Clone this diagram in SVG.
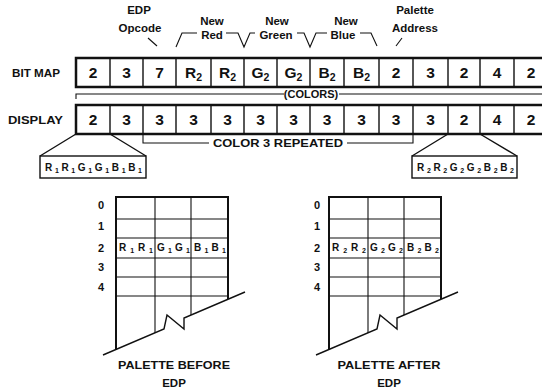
<svg xmlns="http://www.w3.org/2000/svg" width="542" height="388" viewBox="0 0 542 388">
<style>
text{font-family:"Liberation Sans",Arial,sans-serif;font-weight:bold;fill:#111}
.lbl{font-size:11.5px}
.row{font-size:11px}
.cell{font-size:15.5px;text-anchor:middle}
.sub{font-size:10.5px}
.tiny{font-size:10px}
.tsub{font-size:7px}
.mid{text-anchor:middle}
.thick{stroke:#111;stroke-width:2.5;fill:none}
.thin{stroke:#111;stroke-width:1.4;fill:none}
.hair{stroke:#111;stroke-width:1.1;fill:none}
</style>
<rect width="542" height="388" fill="#fff"/>

<g id="annotations">
<text class="lbl mid" x="139" y="14">EDP</text>
<text class="lbl mid" x="140" y="32">Opcode</text>
<line class="hair" x1="148" y1="38" x2="157" y2="46"/>
<text class="lbl mid" x="212" y="25">New</text>
<text class="lbl mid" x="212" y="39">Red</text>
<text class="lbl mid" x="277" y="25">New</text>
<text class="lbl mid" x="276" y="39">Green</text>
<text class="lbl mid" x="346" y="25">New</text>
<text class="lbl mid" x="343" y="39">Blue</text>
<text class="lbl mid" x="415" y="14">Palette</text>
<text class="lbl mid" x="415" y="32">Address</text>
<line class="hair" x1="402" y1="38" x2="396" y2="46"/>
<path class="hair" d="M176,47 L182,33 L197,33 M226,33 L238,33 L244,47 L250,33 L255,33 M297,33 L304,33 L310,47 L316,33 L327,33 M360,33 L371,33 L377,46"/>
</g>

<g id="bitmap">
<text class="row" x="12" y="77" textLength="48" lengthAdjust="spacingAndGlyphs">BIT MAP</text>
<path class="thick" d="M542,58 L76,58 L76,87 L542,87"/>
<path class="thin" d="M110,58V87 M143,58V87 M176,58V87 M211,58V87 M244,58V87 M277,58V87 M310,58V87 M344,58V87 M379,58V87 M413,58V87 M448,58V87 M480,58V87 M514,58V87"/>
<text class="cell" x="93" y="78">2</text>
<text class="cell" x="126.5" y="78">3</text>
<text class="cell" x="159.5" y="78">7</text>
<text class="cell" x="193.5" y="78">R<tspan class="sub" dy="3">2</tspan></text>
<text class="cell" x="227.5" y="78">R<tspan class="sub" dy="3">2</tspan></text>
<text class="cell" x="260.5" y="78">G<tspan class="sub" dy="3">2</tspan></text>
<text class="cell" x="293.5" y="78">G<tspan class="sub" dy="3">2</tspan></text>
<text class="cell" x="327" y="78">B<tspan class="sub" dy="3">2</tspan></text>
<text class="cell" x="361.5" y="78">B<tspan class="sub" dy="3">2</tspan></text>
<text class="cell" x="396" y="78">2</text>
<text class="cell" x="430.5" y="78">3</text>
<text class="cell" x="464" y="78">2</text>
<text class="cell" x="497" y="78">4</text>
<text class="cell" x="531" y="78">2</text>
</g>

<g id="colors-bracket">
<path class="hair" d="M76,99 L76,94 L284,94 M339,94 L542,94"/>
<text class="row mid" x="311" y="98">(COLORS)</text>
</g>

<g id="display">
<text class="row" x="8" y="124" textLength="55" lengthAdjust="spacingAndGlyphs">DISPLAY</text>
<path class="thick" d="M542,105 L76,105 L76,134 L542,134"/>
<path class="thin" d="M110,105V134 M143,105V134 M176,105V134 M211,105V134 M244,105V134 M277,105V134 M310,105V134 M344,105V134 M379,105V134 M413,105V134 M448,105V134 M480,105V134 M514,105V134"/>
<text class="cell" x="93" y="125">2</text>
<text class="cell" x="126.5" y="125">3</text>
<text class="cell" x="159.5" y="125">3</text>
<text class="cell" x="193.5" y="125">3</text>
<text class="cell" x="227.5" y="125">3</text>
<text class="cell" x="260.5" y="125">3</text>
<text class="cell" x="293.5" y="125">3</text>
<text class="cell" x="327" y="125">3</text>
<text class="cell" x="361.5" y="125">3</text>
<text class="cell" x="396" y="125">3</text>
<text class="cell" x="430.5" y="125">3</text>
<text class="cell" x="464" y="125">2</text>
<text class="cell" x="497" y="125">4</text>
<text class="cell" x="531" y="125">2</text>
</g>

<g id="repeat-bracket">
<path class="hair" d="M143,134 L143,143 L209,143 M347,143 L413,143 L413,134"/>
<text class="row" x="213" y="147" textLength="130" lengthAdjust="spacingAndGlyphs">COLOR 3 REPEATED</text>
</g>

<g id="connectors">
<path class="thin" d="M76,134 L40,156 M110,134 L146,156 M448,134 L412,156 M480,134 L517,156"/>
</g>

<g id="zoom-left">
<rect class="thin" x="40" y="156" width="106" height="22"/>
<text class="tiny" x="45" y="171" textLength="97" lengthAdjust="spacing">R<tspan class="tsub" dy="2">1</tspan><tspan dy="-2">R</tspan><tspan class="tsub" dy="2">1</tspan><tspan dy="-2">G</tspan><tspan class="tsub" dy="2">1</tspan><tspan dy="-2">G</tspan><tspan class="tsub" dy="2">1</tspan><tspan dy="-2">B</tspan><tspan class="tsub" dy="2">1</tspan><tspan dy="-2">B</tspan><tspan class="tsub" dy="2">1</tspan></text>
</g>

<g id="zoom-right">
<rect class="thin" x="412" y="156" width="105" height="22"/>
<text class="tiny" x="417" y="171" textLength="97" lengthAdjust="spacing">R<tspan class="tsub" dy="2">2</tspan><tspan dy="-2">R</tspan><tspan class="tsub" dy="2">2</tspan><tspan dy="-2">G</tspan><tspan class="tsub" dy="2">2</tspan><tspan dy="-2">G</tspan><tspan class="tsub" dy="2">2</tspan><tspan dy="-2">B</tspan><tspan class="tsub" dy="2">2</tspan><tspan dy="-2">B</tspan><tspan class="tsub" dy="2">2</tspan></text>
</g>

<g id="palette-before">
<path class="thick" style="stroke-width:2" d="M116,350 L116,197 L228,197 L228,299"/>
<path class="hair" d="M116,219H228 M116,238H228 M116,258H228 M116,277H228 M116,296H228 M155,197V333 M191,197V315"/>
<path class="thin" d="M103,355 L164,329 L167,315 L184,329 L184,318 L245,292"/>
<text class="row mid" x="101" y="209">0</text>
<text class="row mid" x="101" y="230">1</text>
<text class="row mid" x="101" y="252">2</text>
<text class="row mid" x="101" y="271">3</text>
<text class="row mid" x="101" y="291">4</text>
<text class="tiny" x="119" y="251" textLength="34" lengthAdjust="spacing">R<tspan class="tsub" dy="2">1</tspan><tspan dy="-2">R</tspan><tspan class="tsub" dy="2">1</tspan></text>
<text class="tiny" x="157" y="251" textLength="33" lengthAdjust="spacing">G<tspan class="tsub" dy="2">1</tspan><tspan dy="-2">G</tspan><tspan class="tsub" dy="2">1</tspan></text>
<text class="tiny" x="194" y="251" textLength="32" lengthAdjust="spacing">B<tspan class="tsub" dy="2">1</tspan><tspan dy="-2">B</tspan><tspan class="tsub" dy="2">1</tspan></text>
<text class="lbl mid" x="174" y="369" textLength="112" lengthAdjust="spacingAndGlyphs">PALETTE BEFORE</text>
<text class="lbl mid" x="174" y="387">EDP</text>
</g>

<g id="palette-after">
<path class="thick" style="stroke-width:2" d="M329,350 L329,197 L441,197 L441,299"/>
<path class="hair" d="M329,219H441 M329,238H441 M329,258H441 M329,277H441 M329,296H441 M368,197V333 M404,197V315"/>
<path class="thin" d="M316,355 L377,329 L380,315 L397,329 L397,318 L458,292"/>
<text class="row mid" x="317" y="209">0</text>
<text class="row mid" x="317" y="230">1</text>
<text class="row mid" x="317" y="252">2</text>
<text class="row mid" x="317" y="271">3</text>
<text class="row mid" x="317" y="291">4</text>
<text class="tiny" x="332" y="251" textLength="34" lengthAdjust="spacing">R<tspan class="tsub" dy="2">2</tspan><tspan dy="-2">R</tspan><tspan class="tsub" dy="2">2</tspan></text>
<text class="tiny" x="370" y="251" textLength="33" lengthAdjust="spacing">G<tspan class="tsub" dy="2">2</tspan><tspan dy="-2">G</tspan><tspan class="tsub" dy="2">2</tspan></text>
<text class="tiny" x="407" y="251" textLength="32" lengthAdjust="spacing">B<tspan class="tsub" dy="2">2</tspan><tspan dy="-2">B</tspan><tspan class="tsub" dy="2">2</tspan></text>
<text class="lbl mid" x="389" y="369" textLength="103" lengthAdjust="spacingAndGlyphs">PALETTE AFTER</text>
<text class="lbl mid" x="389" y="387">EDP</text>
</g>
</svg>
